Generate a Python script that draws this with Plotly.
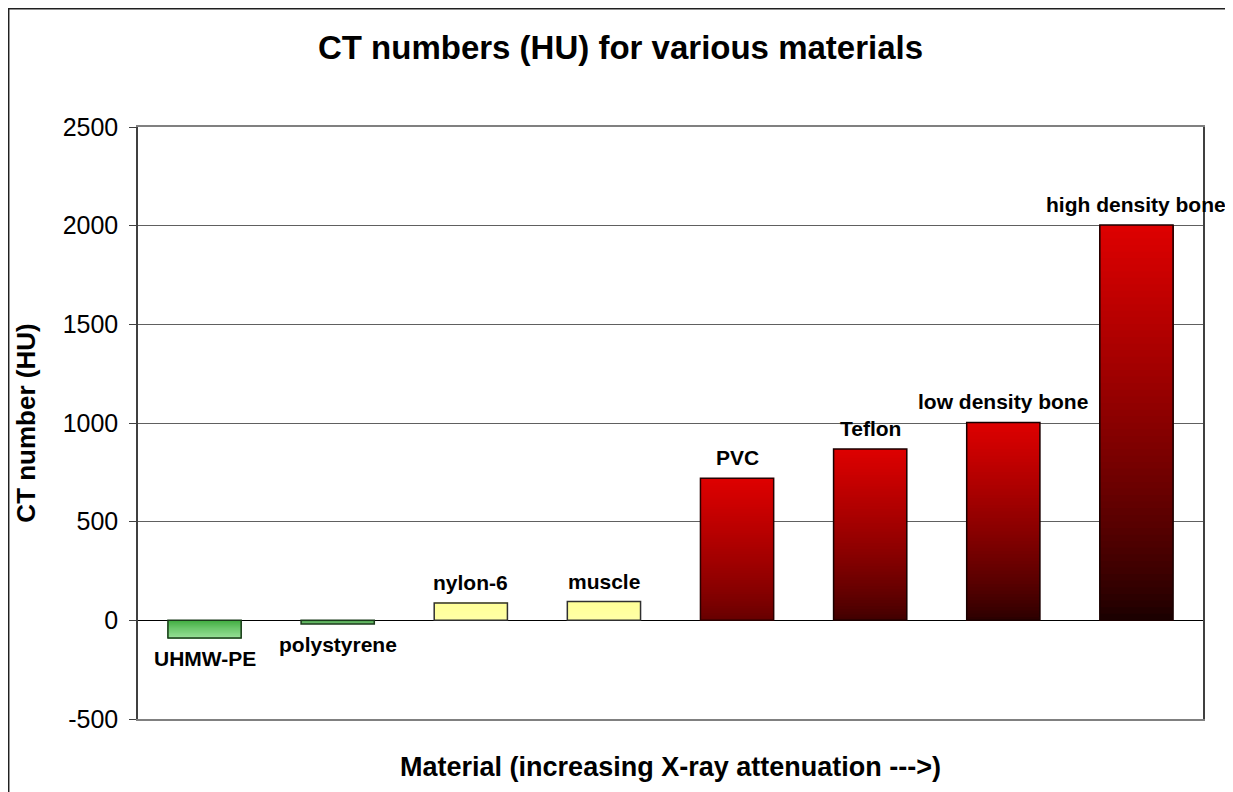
import plotly.graph_objects as go

# ---- data ----
materials = ["UHMW-PE", "polystyrene", "nylon-6", "muscle", "PVC", "Teflon",
             "low density bone", "high density bone"]
ct_numbers = [-90, -18, 88, 95, 720, 868, 1003, 2003]
tick_values = [-500, 0, 500, 1000, 1500, 2000, 2500]
tick_labels = ["-500", "0", "500", "1000", "1500", "2000", "2500"]

# ---- style: colour at the zero end and at the value end of each bar ----
zero_end_colors = [(60, 170, 60), (60, 150, 60), (255, 255, 168), (255, 255, 168),
                   (100, 0, 0), (62, 0, 0), (40, 0, 0), (24, 0, 0)]
value_end_colors = [(150, 224, 150), (110, 190, 110), (255, 255, 152), (255, 255, 152),
                    (222, 0, 0), (222, 0, 0), (222, 0, 0), (222, 0, 0)]
outline_colors = ["#1a3a1a", "#1a3a1a", "#303030", "#303030",
                  "#2a0000", "#1a0000", "#1a0000", "#1a0000"]

N_SEG = 60
BAR_GAP = 0.45
FONT = "Liberation Sans, Arial, sans-serif"


def mix(c0, c1, t):
    return "rgb(%d,%d,%d)" % tuple(round(a + (b - a) * t) for a, b in zip(c0, c1))


fig = go.Figure()

# gradient fill: slice i covers from i/N of the value up to the full value,
# later slices are painted over earlier ones so there are no seams
for i in range(N_SEG):
    t = (i + 0.5) / N_SEG
    te = t ** 0.8
    fig.add_trace(go.Bar(
        x=materials,
        base=[v * i / N_SEG for v in ct_numbers],
        y=[v * (N_SEG - i) / N_SEG for v in ct_numbers],
        marker=dict(color=[mix(z, e, te) for z, e in zip(zero_end_colors, value_end_colors)],
                    line=dict(width=0)),
        hoverinfo="skip",
        showlegend=False,
    ))

# outline of each bar
fig.add_trace(go.Bar(
    x=materials,
    y=ct_numbers,
    marker=dict(color="rgba(0,0,0,0)", line=dict(color=outline_colors, width=1.5)),
    showlegend=False,
    hovertemplate="%{x}: %{y}<extra></extra>",
))

# data labels (category names) above / below bars
for name, v in zip(materials, ct_numbers):
    fig.add_annotation(
        x=name, y=v, text="<b>%s</b>" % name, showarrow=False,
        yanchor="bottom" if v >= 0 else "top",
        yshift=7 if v >= 0 else -7,
        font=dict(family=FONT, size=21, color="black"),
    )

# outer chart frame
fig.add_shape(type="rect", xref="paper", yref="paper",
              x0=-0.1214, x1=1.0272, y0=-0.2, y1=1.1998,
              line=dict(color="#202020", width=1.5), layer="below")

fig.update_layout(
    width=1225, height=784,
    margin=dict(l=130, r=30, t=119, b=73),
    paper_bgcolor="white", plot_bgcolor="white",
    barmode="overlay", bargap=BAR_GAP,
    font=dict(family=FONT, color="black"),
    title=dict(text="<b>CT numbers (HU) for various materials</b>",
               x=0.5, xanchor="center", y=0.950, yanchor="middle",
               font=dict(size=33)),
    xaxis=dict(
        type="category", range=[-0.5, len(materials) - 0.5], autorange=False,
        showticklabels=False, ticks="",
        showline=True, linecolor="#808080", linewidth=1.5, mirror=True,
        showgrid=False,
        title=dict(text="<b>Material (increasing X-ray attenuation --->)</b>",
                   font=dict(size=27), standoff=37),
    ),
    yaxis=dict(
        range=[-500, 2500], autorange=False,
        tickmode="array", tickvals=tick_values, ticktext=tick_labels,
        showgrid=True, gridcolor="#606060", gridwidth=1,
        zeroline=True, zerolinecolor="black", zerolinewidth=1.2,
        showline=True, linecolor="#404040", linewidth=1.5, mirror=True,
        ticks="outside", ticklen=7, tickcolor="#404040",
        ticklabelstandoff=6,
        tickfont=dict(size=25),
        title=dict(text="<b>CT number (HU)</b>", font=dict(size=26), standoff=20),
    ),
)

fig.write_html("out.html")
